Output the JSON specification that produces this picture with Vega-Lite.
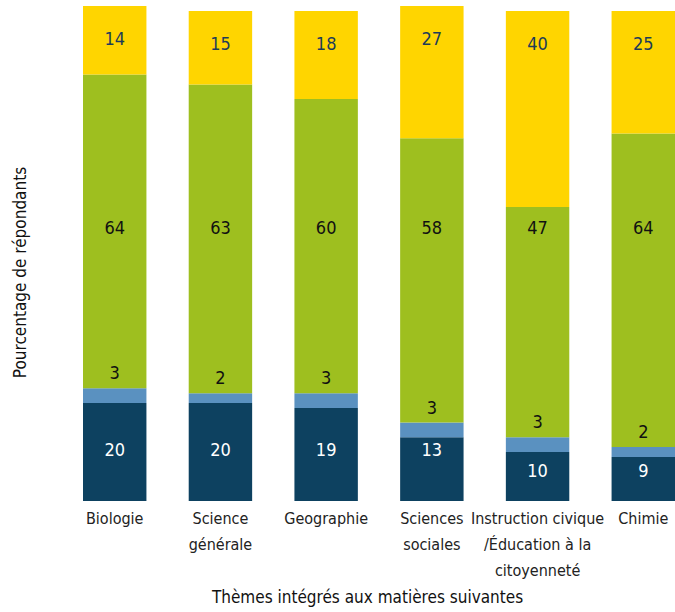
{
  "$schema": "https://vega.github.io/schema/vega-lite/v6.json",
  "autosize": {"type": "none"},
  "width": 592,
  "height": 495,
  "padding": {"left": 83, "top": 6, "right": 0, "bottom": 111},
  "background": "white",
  "config": {
    "view": {"stroke": null},
    "font": "DejaVu Sans Condensed, sans-serif"
  },
  "data": {
    "values": [
      {"cat": "Biologie", "serie": "S1", "value": 20},
      {"cat": "Biologie", "serie": "S2", "value": 3},
      {"cat": "Biologie", "serie": "S3", "value": 64},
      {"cat": "Biologie", "serie": "S4", "value": 14},
      {"cat": "Science générale", "serie": "S1", "value": 20},
      {"cat": "Science générale", "serie": "S2", "value": 2},
      {"cat": "Science générale", "serie": "S3", "value": 63},
      {"cat": "Science générale", "serie": "S4", "value": 15},
      {"cat": "Geographie", "serie": "S1", "value": 19},
      {"cat": "Geographie", "serie": "S2", "value": 3},
      {"cat": "Geographie", "serie": "S3", "value": 60},
      {"cat": "Geographie", "serie": "S4", "value": 18},
      {"cat": "Sciences sociales", "serie": "S1", "value": 13},
      {"cat": "Sciences sociales", "serie": "S2", "value": 3},
      {"cat": "Sciences sociales", "serie": "S3", "value": 58},
      {"cat": "Sciences sociales", "serie": "S4", "value": 27},
      {"cat": "Instruction civique /Éducation à la citoyenneté", "serie": "S1", "value": 10},
      {"cat": "Instruction civique /Éducation à la citoyenneté", "serie": "S2", "value": 3},
      {"cat": "Instruction civique /Éducation à la citoyenneté", "serie": "S3", "value": 47},
      {"cat": "Instruction civique /Éducation à la citoyenneté", "serie": "S4", "value": 40},
      {"cat": "Chimie", "serie": "S1", "value": 9},
      {"cat": "Chimie", "serie": "S2", "value": 2},
      {"cat": "Chimie", "serie": "S3", "value": 64},
      {"cat": "Chimie", "serie": "S4", "value": 25}
    ]
  },
  "transform": [
    {"stack": "value", "groupby": ["cat"], "sort": [{"field": "serie", "order": "ascending"}], "as": ["y0", "y1"]}
  ],
  "encoding": {
    "x": {
      "field": "cat",
      "type": "nominal",
      "sort": null,
      "scale": {"paddingInner": 0.4, "paddingOuter": 0},
      "axis": {
        "title": "Thèmes intégrés aux matières suivantes",
        "titleFontSize": 17,
        "titleFontWeight": 500,
        "titleColor": "#111111",
        "titleX": 284,
        "titleY": 96,
        "titleAlign": "center",
        "titleBaseline": "middle",
        "domain": false,
        "ticks": false,
        "labelAngle": 0,
        "labelFontSize": 16,
        "labelColor": "#222222",
        "labelPadding": 9,
        "labelLineHeight": 26,
        "labelLimit": 200,
        "labelExpr": "datum.label == 'Science générale' ? ['Science', 'générale'] : datum.label == 'Sciences sociales' ? ['Sciences', 'sociales'] : datum.label == 'Instruction civique /Éducation à la citoyenneté' ? ['Instruction civique', '/Éducation à la', 'citoyenneté'] : datum.label"
      }
    }
  },
  "layer": [
    {
      "mark": {"type": "bar"},
      "encoding": {
        "y": {
          "field": "y0",
          "type": "quantitative",
          "scale": {"domain": [0, 101], "nice": false},
          "axis": {
            "title": "Pourcentage de répondants",
            "titleFontSize": 17,
            "titleFontWeight": "normal",
            "titleColor": "#111111",
            "titleX": -63,
            "titleY": 266,
            "titleAlign": "center",
            "titleBaseline": "middle",
            "domain": false,
            "ticks": false,
            "labels": false,
            "grid": false
          }
        },
        "y2": {"field": "y1"},
        "color": {
          "field": "serie",
          "type": "nominal",
          "scale": {"domain": ["S1", "S2", "S3", "S4"], "range": ["#0d4160", "#5a91c0", "#9ebf1f", "#ffd500"]},
          "legend": null
        }
      }
    },
    {
      "transform": [{"filter": "datum.serie == 'S4'"}],
      "mark": {"type": "text", "fontSize": 18, "dy": 34, "baseline": "middle", "color": "#1d3c58"},
      "encoding": {
        "y": {"field": "y1", "type": "quantitative"},
        "text": {"field": "value", "type": "quantitative"}
      }
    },
    {
      "transform": [{"filter": "datum.serie == 'S3'"}],
      "mark": {"type": "text", "fontSize": 18, "baseline": "middle", "color": "#111111"},
      "encoding": {
        "y": {"datum": 55.5, "type": "quantitative"},
        "text": {"field": "value", "type": "quantitative"}
      }
    },
    {
      "transform": [{"filter": "datum.serie == 'S2'"}],
      "mark": {"type": "text", "fontSize": 18, "dy": -14, "baseline": "middle", "color": "#111111"},
      "encoding": {
        "y": {"field": "y1", "type": "quantitative"},
        "text": {"field": "value", "type": "quantitative"}
      }
    },
    {
      "transform": [
        {"filter": "datum.serie == 'S1'"},
        {"calculate": "datum.value >= 13 ? 10.2 : 5.9", "as": "ly"}
      ],
      "mark": {"type": "text", "fontSize": 18, "baseline": "middle", "color": "#ffffff"},
      "encoding": {
        "y": {"field": "ly", "type": "quantitative"},
        "text": {"field": "value", "type": "quantitative"}
      }
    }
  ]
}
